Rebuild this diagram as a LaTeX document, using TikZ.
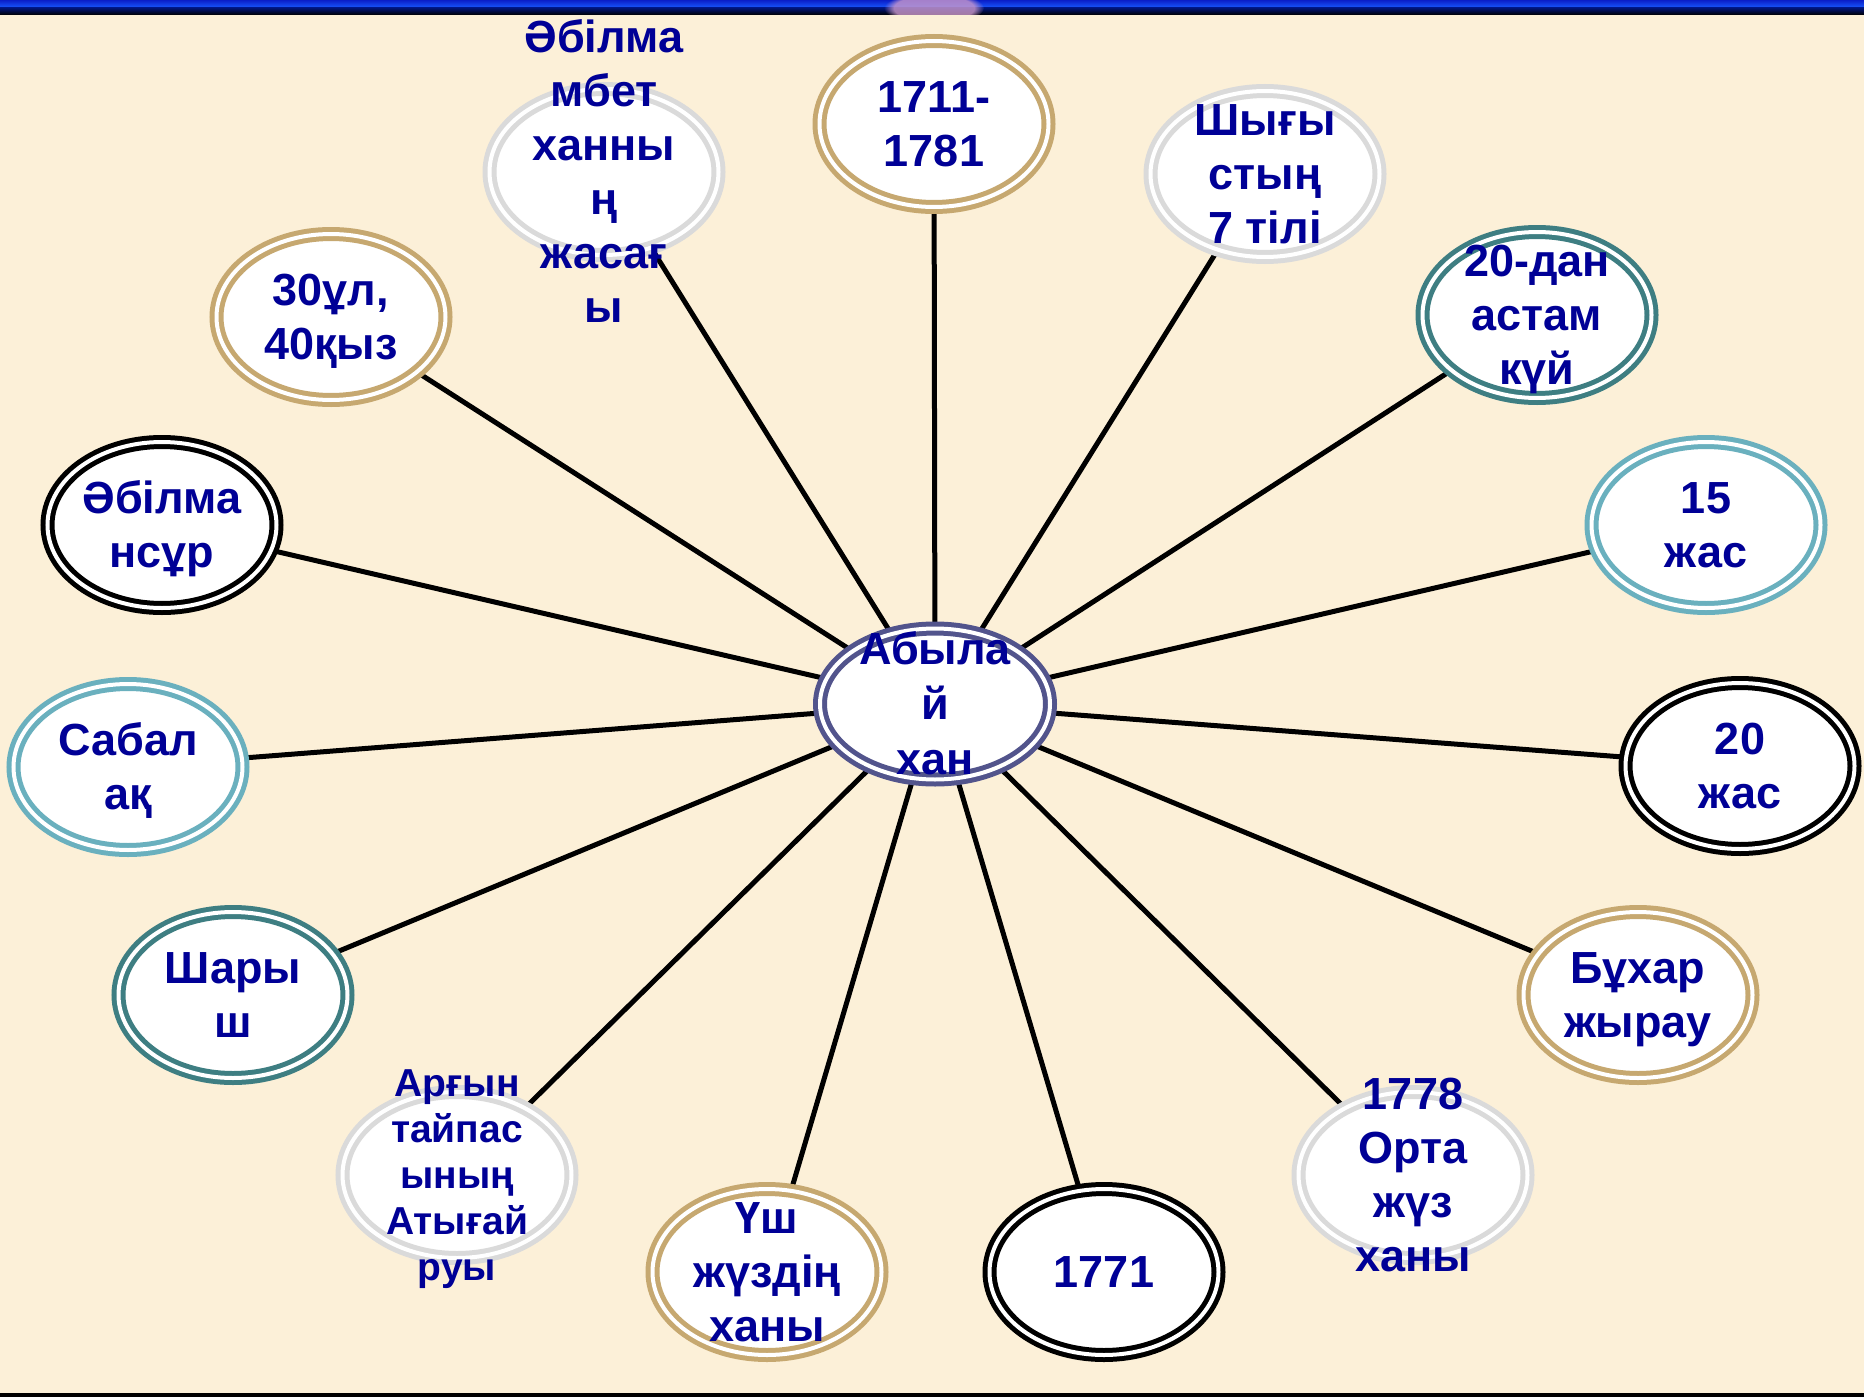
\documentclass[tikz,border=0pt]{standalone}
\usepackage{fontspec}
\setmainfont{Liberation Sans}
\usetikzlibrary{shapes.geometric,backgrounds,fadings}
\definecolor{bgc}{RGB}{252,240,216}
\definecolor{txt}{RGB}{0,0,150}
\definecolor{tanc}{RGB}{198,168,112}
\definecolor{lgray}{RGB}{218,218,218}
\definecolor{dteal}{RGB}{62,126,130}
\definecolor{lteal}{RGB}{106,176,190}
\definecolor{cring}{RGB}{82,84,140}
\newsavebox\mlbox
\newcommand\mlines[1]{\sbox\mlbox{\begin{tabular}[t]{@{}c@{}}#1\end{tabular}}\makebox[0pt]{\smash{\raisebox{\dimexpr(\dp\mlbox-\dp\strutbox-\fontcharht\font`H)/2\relax}{\usebox\mlbox}}}}
\tikzset{
  bub/.style={ellipse, draw=#1, double=white, double distance=4pt, line width=5pt,
    fill=white, minimum width=229pt, minimum height=166pt, inner sep=0pt,
    text=txt, font=\fontsize{45}{54}\selectfont\bfseries},
  link/.style={line width=5pt, black},
}
\begin{document}
\begin{tikzpicture}[x=1pt,y=-1pt]
\useasboundingbox (0,0) rectangle (1864,1397);
\node[bub=cring, minimum width=230pt, minimum height=151pt, font=\fontsize{45}{55}\selectfont\bfseries] (c) at (935,704) {\mlines{Абыла\\й\\хан}};
\node[bub=lgray] (n1) at (604,172) {\mlines{Әбілма\\мбет\\ханны\\ң\\жасағ\\ы}};
\node[bub=tanc] (n2) at (934,124) {\mlines{1711-\\1781}};
\node[bub=lgray] (n3) at (1265,174) {\mlines{Шығы\\стың\\7 тілі}};
\node[bub=tanc] (n4) at (331,317) {\mlines{30ұл,\\40қыз}};
\node[bub=dteal] (n5) at (1537,315) {\mlines{20-дан\\астам\\күй}};
\node[bub=black] (n6) at (162,525) {\mlines{Әбілма\\нсұр}};
\node[bub=lteal] (n7) at (1706,525) {\mlines{15\\жас}};
\node[bub=lteal] (n8) at (128,767) {\mlines{Сабал\\ақ}};
\node[bub=black] (n9) at (1740,766) {\mlines{20\\жас}};
\node[bub=dteal] (n10) at (233,995) {\mlines{Шары\\ш}};
\node[bub=tanc] (n11) at (1638,995) {\mlines{Бұхар\\жырау}};
\node[bub=lgray, font=\fontsize{39}{46}\selectfont\bfseries] (n12) at (457,1175) {\mlines{Арғын\\тайпас\\ының\\Атығай\\руы}};
\node[bub=lgray] (n13) at (1413,1175) {\mlines{1778\\Орта\\жүз\\ханы}};
\node[bub=tanc] (n14) at (767,1272) {\mlines{Үш\\жүздің\\ханы}};
\node[bub=black] (n15) at (1104,1272) {\mlines{1771}};
\begin{pgfonlayer}{background}
\fill[bgc] (0,0) rectangle (1864,1397);
\shade[top color={rgb,255:red,10;green,30;blue,200}, bottom color={rgb,255:red,25;green,90;blue,255}] (0,0) rectangle (1864,8);
\shade[top color={rgb,255:red,0;green,20;blue,120}, bottom color=black] (0,8) rectangle (1864,15);
\begin{scope}
\clip (0,0) rectangle (1864,15);
\fill[white!60!violet, opacity=0.8, path fading=circle with fuzzy edge 20 percent] (934,8) ellipse (50 and 16);
\end{scope}
\fill[black] (0,1393) rectangle (1864,1397);
\foreach \n in {n1,n2,n3,n4,n5,n6,n7,n8,n9,n10,n11,n12,n13,n14,n15}
  \draw[link] (c) -- (\n);
\end{pgfonlayer}
\end{tikzpicture}
\end{document}
